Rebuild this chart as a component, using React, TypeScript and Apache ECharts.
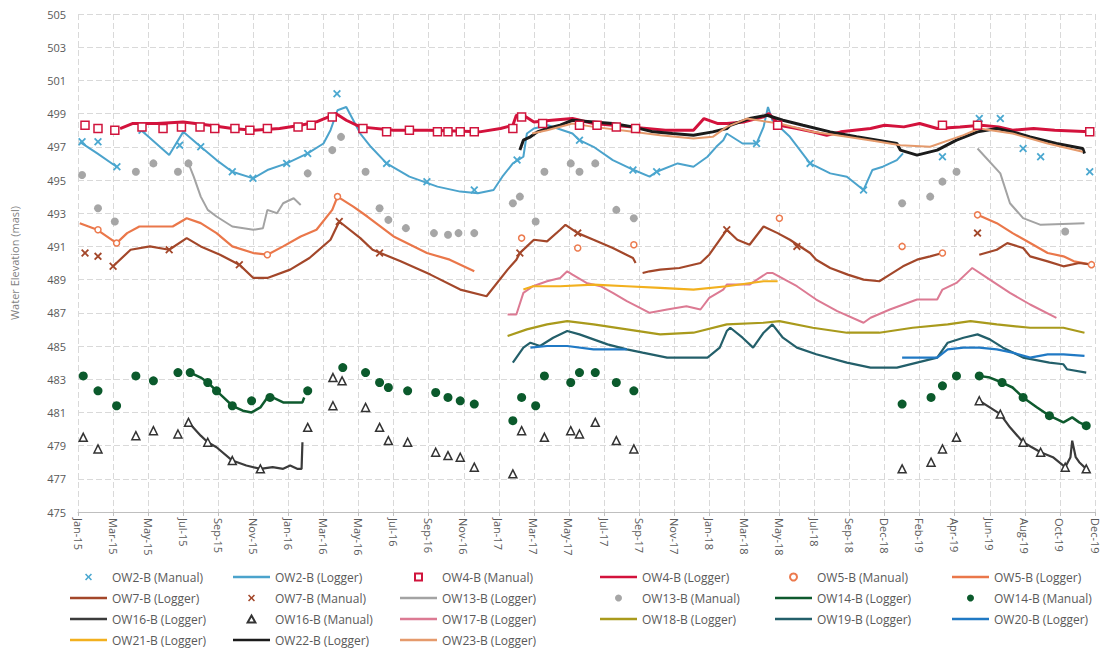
import React, { useEffect, useRef } from "react";
import * as echarts from "echarts";

// x values are months since Jan-15 (ticks every 2 months on the axis)
const xTickLabels = ["Jan-15","Mar-15","May-15","Jul-15","Sep-15","Nov-15","Jan-16","Mar-16","May-16","Jul-16","Sep-16","Nov-16","Jan-17","Mar-17","May-17","Jul-17","Sep-17","Nov-17","Jan-18","Mar-18","May-18","Jul-18","Sep-18","Dec-18","Feb-19","Apr-19","Jun-19","Aug-19","Oct-19","Dec-19"];
const yAxisTitle = "Water Elevation (masl)";

const ow2Manual = [[0.23,497.3],[1.14,497.3],[2.22,495.8],[3.65,498.0],[5.8,497.1],[7.0,497.0],[8.8,495.5],[9.98,495.1],[11.9,496.0],[13.1,496.6],[14.77,500.2],[17.6,496.0],[19.9,494.9],[22.6,494.4],[25.04,496.2],[28.6,497.4],[31.65,495.6],[33.0,495.5],[38.7,497.2],[41.75,496.0],[44.8,494.4],[49.3,496.4],[51.4,498.7],[52.6,498.7],[53.9,496.9],[54.9,496.4],[57.7,495.5]];
const ow2Logger = [[0.1,497.3],[1.1,496.6],[2.2,495.8],[3.0,"-"],[3.6,498.0],[3.7,497.9],[5.2,496.5],[6.0,497.9],[7.0,497.0],[7.9,496.2],[8.8,495.5],[10.0,495.1],[10.8,495.6],[11.9,496.0],[13.1,496.6],[14.0,497.2],[14.4,498.0],[14.8,499.2],[15.3,499.4],[16.1,497.8],[16.7,497.0],[17.6,496.0],[18.9,495.2],[20.5,494.6],[21.8,494.3],[22.8,494.2],[23.7,494.4],[24.2,495.2],[24.8,496.0],[25.4,496.4],[25.6,497.8],[26.0,498.1],[26.8,498.3],[28.2,497.8],[28.6,497.4],[29.4,497.0],[30.5,496.2],[31.7,495.6],[32.6,495.2],[33.0,495.5],[34.2,496.0],[35.1,495.8],[35.9,496.4],[36.4,497.0],[36.8,497.4],[37.0,497.8],[37.9,497.2],[38.7,497.2],[39.1,498.2],[39.35,499.4],[39.6,498.6],[40.6,497.6],[41.75,496.0],[42.9,495.4],[43.85,495.2],[44.8,494.4],[45.3,495.6],[45.9,495.8],[46.7,496.2],[47.05,496.6]];
const ow4Manual = [[0.4,498.3],[1.14,498.1],[2.1,498.0],[3.65,498.2],[4.85,498.1],[5.9,498.2],[6.96,498.2],[7.8,498.1],[8.95,498.1],[9.8,498.0],[10.8,498.1],[12.55,498.2],[13.3,498.3],[14.5,498.8],[16.25,498.1],[17.6,497.9],[18.9,498.0],[20.5,497.9],[21.1,497.9],[21.8,497.9],[22.6,497.9],[24.8,498.1],[25.3,498.8],[26.5,498.4],[28.6,498.3],[29.6,498.3],[30.7,498.2],[31.8,498.1],[39.9,498.3],[49.3,498.3],[51.3,498.3],[57.7,497.9]];
const ow4Logger = [[2.4,498.1],[3.1,498.4],[4.5,498.4],[6.0,498.5],[7.5,498.3],[8.8,498.1],[10.0,498.0],[11.5,498.1],[12.7,498.3],[13.6,498.5],[14.5,498.9],[14.7,499.0],[15.3,498.6],[16.1,498.2],[18.0,498.0],[20.0,498.0],[22.9,497.9],[24.1,498.1],[24.8,498.3],[25.0,498.9],[25.4,498.9],[26.0,498.5],[27.0,498.6],[28.2,498.7],[29.4,498.4],[31.5,498.2],[33.5,498.0],[35.1,498.0],[35.7,498.7],[36.5,498.4],[37.0,498.4],[38.0,498.5],[39.1,498.8],[39.4,499.0],[40.0,498.3],[41.0,498.1],[41.9,497.9],[42.7,497.7],[43.5,497.9],[45.2,498.1],[46.0,498.3],[47.1,498.2],[48.0,498.4],[49.0,498.1],[50.3,498.2],[51.5,498.3],[52.5,498.2],[53.3,498.0],[54.5,498.1],[55.7,498.0],[57.7,497.9]];
const ow5Manual = [[1.14,492.0],[2.2,491.2],[10.8,490.5],[14.8,494.0],[25.3,491.5],[28.5,490.9],[31.7,491.1],[40.0,492.7],[47.0,491.0],[49.3,490.6],[51.3,492.9],[57.8,489.9]];
const ow5Logger = [[0.1,492.4],[1.1,492.0],[2.2,491.2],[2.8,491.8],[3.5,492.2],[5.4,492.2],[6.2,492.7],[7.0,492.4],[7.9,491.8],[8.8,491.0],[10.0,490.6],[10.8,490.5],[11.7,491.0],[12.7,491.6],[13.6,492.0],[14.5,493.2],[14.8,494.0],[15.7,493.4],[16.5,492.8],[18.0,491.6],[19.9,490.6],[21.2,490.2],[22.6,489.5],[30.0,"-"],[51.3,492.9],[52.4,492.4],[53.3,491.8],[54.3,491.2],[55.3,490.6],[56.2,490.4],[56.8,490.1],[57.8,489.9]];
const ow7Logger = [[2.0,489.8],[3.0,490.8],[4.1,491.0],[5.2,490.8],[6.2,491.5],[7.0,491.0],[8.1,490.5],[9.2,489.9],[10.0,489.1],[10.8,489.1],[12.1,489.6],[13.2,490.3],[14.4,491.4],[14.9,492.5],[16.1,491.5],[16.8,490.8],[18.4,490.1],[20.1,489.3],[21.8,488.4],[23.3,488.0],[24.5,489.6],[25.0,490.2],[25.2,490.6],[25.6,491.0],[26.0,491.4],[26.75,491.3],[27.5,492.0],[27.8,492.3],[28.5,491.8],[29.4,491.4],[30.5,490.9],[31.65,490.3],[31.8,490.0],[32.0,"-"],[32.2,489.4],[32.6,489.5],[33.2,489.6],[34.3,489.7],[35.5,490.0],[36.0,490.5],[37.0,492.0],[37.6,491.4],[38.3,491.1],[39.1,492.2],[39.9,491.8],[40.6,491.4],[41.75,490.6],[42.1,490.2],[42.9,489.7],[43.9,489.3],[44.8,489.0],[45.7,488.9],[46.3,489.3],[47.05,489.8],[47.85,490.2],[48.6,490.4],[49.3,490.6],[50.0,"-"],[51.4,490.5],[52.4,490.8],[53.0,491.2],[53.9,490.9],[54.3,490.4],[55.3,490.1],[56.2,489.8],[57.1,490.0],[57.8,489.9]];
const ow7Manual = [[0.4,490.6],[1.14,490.4],[2.0,489.8],[5.2,490.8],[9.2,489.9],[14.9,492.5],[17.2,490.6],[25.2,490.6],[28.5,491.8],[37.0,492.0],[41.0,491.0],[51.3,491.8]];
const ow13Logger = [[6.3,496.0],[6.6,495.2],[7.0,494.0],[7.4,493.2],[7.9,492.8],[8.8,492.2],[10.0,492.0],[10.55,492.1],[10.8,493.2],[11.35,493.0],[11.7,493.6],[12.3,493.9],[12.7,493.5],[20.0,"-"],[51.3,496.9],[52.6,495.4],[53.15,493.6],[53.9,492.7],[54.9,492.3],[57.4,492.4]];
const ow13Manual = [[0.23,495.3],[1.14,493.3],[2.1,492.5],[3.3,495.5],[4.3,496.0],[5.7,495.5],[6.3,496.0],[13.1,495.4],[14.5,496.8],[15.0,497.6],[16.4,495.5],[17.2,493.3],[17.7,492.6],[18.7,492.1],[20.3,491.8],[21.1,491.7],[21.7,491.8],[22.6,491.8],[24.8,493.6],[25.2,494.0],[26.1,492.5],[26.6,495.5],[28.1,496.0],[28.6,495.5],[29.5,496.0],[30.7,493.2],[31.7,492.7],[47.0,493.6],[48.6,494.0],[49.3,494.9],[50.1,495.5],[56.3,491.9]];
const ow14Logger = [[6.4,483.4],[7.0,483.1],[7.4,482.8],[7.9,482.3],[8.3,481.9],[8.8,481.4],[9.4,481.1],[9.9,481.0],[10.4,481.3],[10.8,481.9],[11.1,481.9],[11.7,481.6],[12.3,481.6],[12.8,481.6],[12.9,481.9],[20.0,"-"],[51.4,483.2],[52.0,483.1],[52.7,482.8],[53.3,482.5],[53.9,481.9],[54.7,481.3],[55.4,480.8],[56.2,480.4],[56.7,480.7],[57.1,480.4],[57.5,480.2]];
const ow14Manual = [[0.3,483.2],[1.14,482.3],[2.2,481.4],[3.3,483.2],[4.3,482.9],[5.7,483.4],[6.4,483.4],[7.4,482.8],[7.9,482.3],[8.8,481.4],[9.9,481.7],[10.95,481.9],[13.1,482.3],[15.1,483.7],[16.4,483.4],[17.2,482.8],[17.7,482.5],[18.8,482.3],[20.4,482.2],[21.1,481.9],[21.8,481.7],[22.6,481.5],[24.8,480.5],[25.3,481.9],[26.1,481.4],[26.6,483.2],[28.1,482.8],[28.6,483.4],[29.5,483.4],[30.7,482.8],[31.7,482.3],[47.0,481.5],[48.65,481.9],[49.3,482.6],[50.1,483.2],[51.4,483.2],[52.7,482.8],[53.9,481.9],[55.4,480.8],[57.5,480.2]];
const ow16Logger = [[6.3,480.4],[7.0,479.6],[7.4,479.2],[7.9,478.9],[8.8,478.1],[9.6,477.8],[10.4,477.6],[11.1,477.7],[11.7,477.6],[12.1,477.8],[12.5,477.6],[12.75,477.6],[12.8,479.2],[20.0,"-"],[51.4,481.7],[52.0,481.3],[52.6,480.9],[53.15,480.1],[53.9,479.2],[54.9,478.6],[55.6,478.3],[56.3,477.7],[56.6,478.3],[56.7,479.3],[56.9,478.3],[57.1,478.0],[57.5,477.6]];
const ow16Manual = [[0.3,479.5],[1.14,478.8],[3.3,479.6],[4.3,479.9],[5.7,479.7],[6.3,480.4],[7.4,479.2],[8.8,478.1],[10.4,477.6],[13.1,480.1],[14.54,483.1],[15.06,482.9],[14.54,481.4],[16.4,481.3],[17.2,480.1],[17.7,479.3],[18.8,479.2],[20.4,478.6],[21.1,478.4],[21.8,478.3],[22.6,477.7],[24.8,477.3],[25.3,479.9],[26.6,479.5],[28.1,479.9],[28.6,479.7],[29.5,480.4],[30.7,479.3],[31.7,478.8],[47.0,477.6],[48.65,478.0],[49.3,478.8],[50.1,479.5],[51.4,481.7],[52.6,480.9],[53.9,479.2],[54.9,478.6],[56.3,477.7],[57.5,477.6]];
const ow17Logger = [[24.5,486.9],[25.0,486.9],[25.4,488.2],[25.95,488.6],[26.75,488.9],[27.5,489.1],[27.9,489.5],[28.2,489.3],[29.0,488.8],[29.8,488.6],[30.5,488.2],[31.3,487.7],[32.05,487.3],[32.6,487.0],[33.6,487.2],[34.7,487.4],[35.5,487.2],[36.0,487.9],[36.8,488.4],[37.0,488.7],[38.3,488.7],[39.3,489.4],[39.6,489.4],[41.0,488.6],[42.1,487.8],[43.3,487.1],[44.8,486.4],[45.2,486.7],[46.3,487.2],[47.85,487.8],[49.0,487.8],[49.3,488.4],[50.1,488.8],[50.9,489.6],[51.0,489.7],[52.0,489.0],[53.15,488.2],[54.3,487.5],[55.8,486.7]];
const ow18Logger = [[24.5,485.6],[25.6,486.0],[26.75,486.3],[27.9,486.5],[29.4,486.3],[31.3,486.0],[33.2,485.7],[35.1,485.8],[37.0,486.3],[39.1,486.4],[40.0,486.5],[41.9,486.1],[43.85,485.8],[45.7,485.8],[47.6,486.1],[49.6,486.3],[50.9,486.5],[52.4,486.3],[54.3,486.1],[56.2,486.1],[57.4,485.8]];
const ow19Logger = [[24.8,484.0],[25.0,484.3],[25.4,484.9],[25.8,485.2],[26.35,485.0],[27.1,485.5],[27.9,485.9],[28.6,485.7],[29.4,485.4],[30.2,485.1],[31.3,484.8],[32.2,484.6],[33.6,484.3],[35.1,484.3],[35.9,484.3],[36.6,484.9],[37.0,485.9],[37.2,486.1],[37.9,485.5],[38.5,484.9],[39.1,485.8],[39.6,486.3],[40.2,485.5],[41.0,484.9],[42.1,484.5],[43.85,484.0],[45.2,483.7],[46.7,483.7],[47.85,484.0],[49.0,484.3],[49.6,485.2],[50.5,485.5],[51.3,485.7],[52.0,485.4],[52.75,484.9],[53.9,484.3],[55.4,484.0],[56.2,483.9],[56.4,483.6],[57.5,483.4]];
const ow20Logger = [[25.8,484.9],[26.75,485.0],[27.9,485.0],[29.4,484.8],[30.5,484.8],[31.3,484.8],[40.0,"-"],[47.0,484.3],[47.85,484.3],[49.0,484.3],[49.6,484.8],[50.5,484.9],[51.4,484.9],[52.4,484.8],[53.3,484.6],[54.3,484.3],[55.3,484.5],[56.2,484.5],[57.4,484.4]];
const ow21Logger = [[25.4,488.4],[25.95,488.6],[27.5,488.6],[29.4,488.7],[31.3,488.6],[33.2,488.5],[35.1,488.4],[37.0,488.6],[39.1,488.9],[39.9,488.9]];
const ow22Logger = [[25.2,496.8],[25.4,497.4],[25.8,497.6],[26.2,497.9],[26.75,498.1],[27.5,498.3],[28.2,498.6],[29.4,498.5],[30.5,498.4],[31.65,498.2],[32.8,497.9],[33.9,497.8],[35.1,497.7],[36.2,497.9],[37.0,498.1],[37.2,498.3],[38.3,498.7],[39.3,498.9],[40.2,498.6],[41.35,498.3],[42.9,497.9],[44.4,497.6],[45.6,497.4],[46.7,497.2],[46.9,496.8],[47.85,496.5],[49.0,496.8],[50.1,497.4],[51.3,497.9],[52.4,498.1],[53.3,497.9],[54.3,497.6],[55.8,497.2],[57.3,496.9],[57.4,496.6]];
const ow23Logger = [[25.9,497.8],[26.75,498.0],[28.2,498.4],[29.4,498.2],[31.65,497.9],[33.2,497.7],[35.1,497.5],[36.2,497.6],[37.0,498.2],[38.15,498.7],[40.0,498.4],[41.9,497.9],[43.85,497.6],[45.7,497.3],[46.9,497.1],[48.6,497.0],[50.5,497.7],[51.4,498.1],[53.3,497.8],[55.3,497.2],[57.3,496.7]];

const FONT = "Open Sans";
const XMARK = "path://M0,1.6L1.6,0L5,3.4L8.4,0L10,1.6L6.6,5L10,8.4L8.4,10L5,6.6L1.6,10L0,8.4L3.4,5Z";
const SQUARE = "path://M0,0L10,0L10,10L0,10Z";
const TRIANGLE = "path://M5,0L10,9L0,9Z";
const LINE_ICON = "path://M0,0L40,0L40,2.6L0,2.6Z";

function lineSeries(name: string, data: any[], color: string, width = 2) {
  return {
    name, type: "line", data, symbol: "none", showSymbol: false, connectNulls: false,
    lineStyle: { color, width }, itemStyle: { color }, z: 2, emphasis: { disabled: true },
  };
}
function scatterSeries(name: string, data: any[], symbol: string, size: number, color: string, border?: string) {
  return {
    name, type: "scatter", data, symbol, symbolSize: size, z: 3,
    itemStyle: border ? { color, borderColor: border, borderWidth: 1.5, opacity: 1 } : { color, opacity: 1 },
    emphasis: { disabled: true },
  };
}

const legendCols = [
  { left: 70, names: ["OW2-B (Manual)", "OW7-B (Logger)", "OW16-B (Logger)", "OW21-B (Logger)"] },
  { left: 233, names: ["OW2-B (Logger)", "OW7-B (Manual)", "OW16-B (Manual)", "OW22-B (Logger)"] },
  { left: 400, names: ["OW4-B (Manual)", "OW13-B (Logger)", "OW17-B (Logger)", "OW23-B (Logger)"] },
  { left: 600, names: ["OW4-B (Logger)", "OW13-B (Manual)", "OW18-B (Logger)"] },
  { left: 775, names: ["OW5-B (Manual)", "OW14-B (Logger)", "OW19-B (Logger)"] },
  { left: 952, names: ["OW5-B (Logger)", "OW14-B (Manual)", "OW20-B (Logger)"] },
];

export default function App() {
  const ref = useRef<HTMLDivElement>(null);
  useEffect(() => {
    if (!ref.current) return;
    const chart = echarts.init(ref.current, null, { renderer: "svg" });
    const series = [
      scatterSeries("OW2-B (Manual)", ow2Manual, XMARK, 8, "#4ba8d0"),
      lineSeries("OW2-B (Logger)", ow2Logger, "#4ba3cc", 2),
      scatterSeries("OW4-B (Manual)", ow4Manual, SQUARE, 8, "#ffffff", "#d0143c"),
      lineSeries("OW4-B (Logger)", ow4Logger, "#d3123c", 3),
      scatterSeries("OW5-B (Manual)", ow5Manual, "circle", 6, "#ffffff", "#ec7a4e"),
      lineSeries("OW5-B (Logger)", ow5Logger, "#ea774a", 2.2),
      lineSeries("OW7-B (Logger)", ow7Logger, "#a3472a", 2.2),
      scatterSeries("OW7-B (Manual)", ow7Manual, XMARK, 8, "#a3472a"),
      lineSeries("OW13-B (Logger)", ow13Logger, "#a3a3a3", 2),
      scatterSeries("OW13-B (Manual)", ow13Manual, "circle", 8, "#a6a6a6"),
      lineSeries("OW14-B (Logger)", ow14Logger, "#0e5a2e", 2.5),
      scatterSeries("OW14-B (Manual)", ow14Manual, "circle", 9, "#0b5a2c"),
      lineSeries("OW16-B (Logger)", ow16Logger, "#3b3b3b", 2.2),
      scatterSeries("OW16-B (Manual)", ow16Manual, TRIANGLE, 8, "#ffffff", "#333333"),
      lineSeries("OW17-B (Logger)", ow17Logger, "#dc7a93", 2),
      lineSeries("OW18-B (Logger)", ow18Logger, "#a99a1c", 2.2),
      lineSeries("OW19-B (Logger)", ow19Logger, "#235f6a", 2.2),
      lineSeries("OW20-B (Logger)", ow20Logger, "#2079c4", 2.2),
      lineSeries("OW21-B (Logger)", ow21Logger, "#f2b01e", 2.2),
      lineSeries("OW22-B (Logger)", ow22Logger, "#1b1b1b", 3),
      lineSeries("OW23-B (Logger)", ow23Logger, "#e59a6c", 2),
    ];
    const legends = legendCols.map((c) => ({
      data: c.names.map((n) => (n.indexOf("Logger") >= 0 ? { name: n, icon: LINE_ICON } : { name: n })),
      orient: "vertical", left: c.left, top: 571, padding: 0, height: 79,
      itemWidth: 37, itemHeight: 7, itemGap: 9, selectedMode: false, symbolKeepAspect: true,
      textStyle: { fontSize: 12, color: "#595959", fontFamily: FONT },
    }));
    chart.setOption({
      animation: false,
      backgroundColor: "#ffffff",
      textStyle: { fontFamily: FONT },
      grid: { left: 78, right: 13, top: 14, bottom: 138 },
      legend: legends,
      xAxis: {
        type: "value", min: 0, max: 58, interval: 2,
        axisLine: { show: true, onZero: false, lineStyle: { color: "#bfbfbf" } },
        axisTick: { show: true, length: 4, lineStyle: { color: "#bfbfbf" } },
        axisLabel: {
          rotate: -90, fontSize: 11, color: "#595959", margin: 6, fontFamily: FONT,
          formatter: (v: number) => xTickLabels[Math.round(v / 2)] ?? "",
        },
        splitLine: { show: true, lineStyle: { color: "#d9d9d9", type: [6, 3], width: 1 } },
      },
      yAxis: {
        type: "value", min: 475, max: 505, interval: 2,
        name: yAxisTitle, nameLocation: "middle", nameGap: 58,
        nameTextStyle: { fontSize: 11, color: "#7f7f7f", fontFamily: FONT },
        axisLine: { show: false }, axisTick: { show: false },
        axisLabel: { fontSize: 11, color: "#595959", margin: 12, fontFamily: FONT },
        splitLine: { show: true, lineStyle: { color: "#d9d9d9", type: [6, 3], width: 1 } },
      },
      series,
    });
    return () => chart.dispose();
  }, []);
  return <div ref={ref} style={{ position: "fixed", left: 0, top: 0, width: 1108, height: 650 }} />;
}
